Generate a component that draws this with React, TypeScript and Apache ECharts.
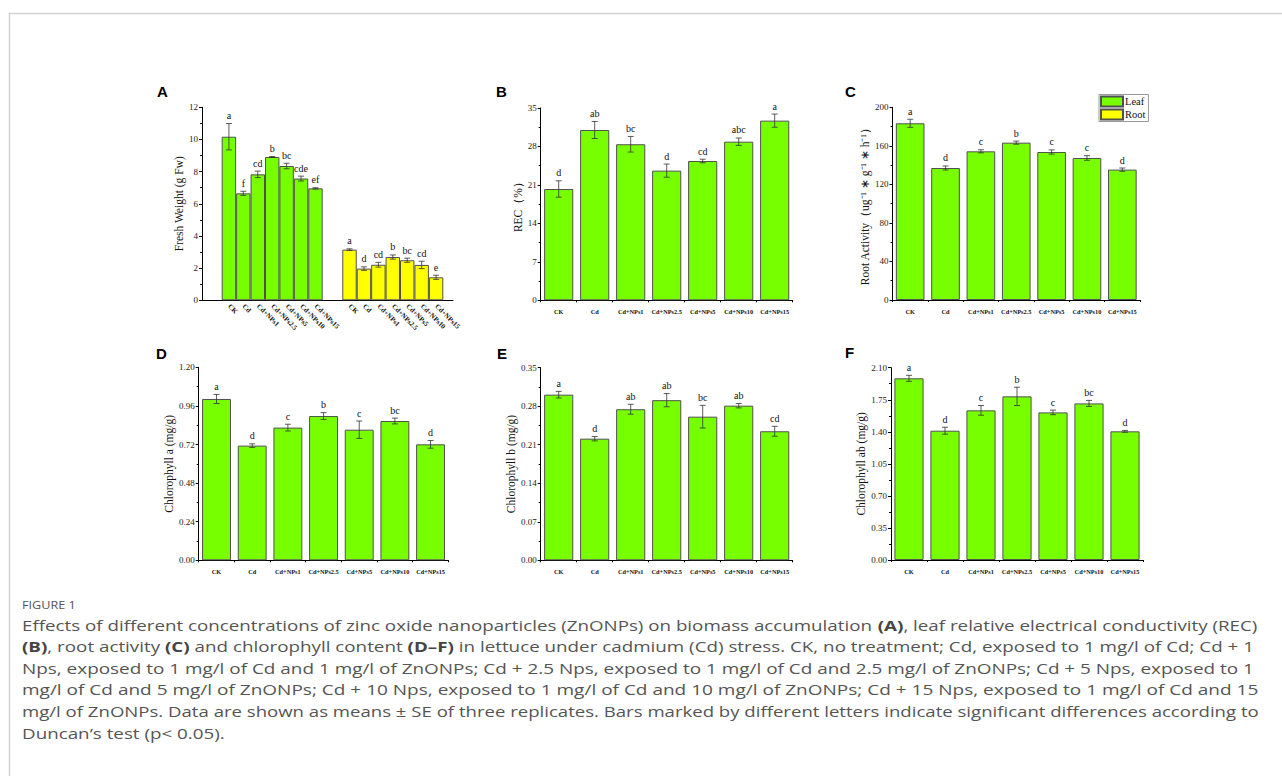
import React, { useEffect, useRef } from 'react';
import * as echarts from 'echarts';

const categories = ['CK', 'Cd', 'Cd+NPs1', 'Cd+NPs2.5', 'Cd+NPs5', 'Cd+NPs10', 'Cd+NPs15'];

const freshLeaf = [10.17, 6.65, 7.83, 8.91, 8.35, 7.57, 6.96];
const freshLeafSE = [0.82, 0.13, 0.2, 0.03, 0.17, 0.15, 0.04];
const freshLeafSig = ['a', 'f', 'cd', 'b', 'bc', 'cde', 'ef'];

const freshRoot = [3.15, 1.97, 2.21, 2.69, 2.49, 2.2, 1.43];
const freshRootSE = [0.05, 0.11, 0.15, 0.13, 0.13, 0.23, 0.13];
const freshRootSig = ['a', 'd', 'cd', 'b', 'bc', 'cd', 'e'];

const rec = [20.26, 31.0, 28.4, 23.6, 25.35, 28.87, 32.7];
const recSE = [1.49, 1.55, 1.42, 1.2, 0.33, 0.67, 1.2];
const recSig = ['d', 'ab', 'bc', 'd', 'cd', 'abc', 'a'];

const rootAct = [183.4, 137, 154.3, 163.3, 153.6, 147.4, 135.3];
const rootActSE = [4.2, 2.1, 1.6, 1.6, 2.2, 2.4, 1.7];
const rootActSig = ['a', 'd', 'c', 'b', 'c', 'c', 'd'];

const chlA = [1.003, 0.713, 0.825, 0.897, 0.812, 0.866, 0.721];
const chlASE = [0.028, 0.011, 0.021, 0.021, 0.054, 0.018, 0.024];
const chlASig = ['a', 'd', 'c', 'b', 'c', 'bc', 'd'];

const chlB = [0.301, 0.221, 0.2745, 0.291, 0.261, 0.281, 0.2345];
const chlBSE = [0.006, 0.004, 0.009, 0.012, 0.0206, 0.004, 0.009];
const chlBSig = ['a', 'd', 'ab', 'ab', 'bc', 'ab', 'cd'];

const chlAB = [1.984, 1.412, 1.634, 1.787, 1.612, 1.71, 1.405];
const chlABSE = [0.033, 0.038, 0.053, 0.1, 0.025, 0.033, 0.01];
const chlABSig = ['a', 'd', 'c', 'b', 'c', 'bc', 'd'];

const legendNames = ['Leaf', 'Root'];

const captionTitle = 'FIGURE 1';
const captionLines = [
  'Effects of different concentrations of zinc oxide nanoparticles (ZnONPs) on biomass accumulation {b|(A)}, leaf relative electrical conductivity (REC)',
  '{b|(B)}, root activity {b|(C)} and chlorophyll content {b|(D–F)} in lettuce under cadmium (Cd) stress. CK, no treatment; Cd, exposed to 1 mg/l of Cd; Cd + 1',
  'Nps, exposed to 1 mg/l of Cd and 1 mg/l of ZnONPs; Cd + 2.5 Nps, exposed to 1 mg/l of Cd and 2.5 mg/l of ZnONPs; Cd + 5 Nps, exposed to 1',
  'mg/l of Cd and 5 mg/l of ZnONPs; Cd + 10 Nps, exposed to 1 mg/l of Cd and 10 mg/l of ZnONPs; Cd + 15 Nps, exposed to 1 mg/l of Cd and 15',
  'mg/l of ZnONPs. Data are shown as means ± SE of three replicates. Bars marked by different letters indicate significant differences according to',
  'Duncan’s test (p< 0.05).',
];

const SERIF = "'Liberation Serif', 'Times New Roman', serif";
const SANS = "'Liberation Sans', Arial, sans-serif";
const CAP = "'Open Sans', sans-serif";
const GREEN = '#77FF00';
const YELLOW = '#FFFF00';
const BORDER = '#505050';

function yAxisFor(gridIndex: number, max: number, interval: number, name: string, nameGap: number, decimals: number, show = true) {
  return {
    type: 'value',
    gridIndex,
    min: 0,
    max,
    interval,
    show,
    name,
    nameLocation: 'middle',
    nameGap,
    nameTextStyle: { fontFamily: SERIF, fontSize: 11.5, color: '#111' },
    axisLine: { show: true, lineStyle: { color: '#000', width: 1 } },
    axisTick: { show: true, length: 3, inside: false, lineStyle: { color: '#000', width: 1 } },
    minorTick: { show: true, splitNumber: 2, length: 2, lineStyle: { color: '#000', width: 1 } },
    splitLine: { show: false },
    axisLabel: {
      fontFamily: SERIF,
      fontSize: 9,
      color: '#222',
      margin: 4,
      formatter: (v: number) => v.toFixed(decimals),
    },
  };
}

function xCat(gridIndex: number) {
  return {
    type: 'category',
    gridIndex,
    data: categories,
    boundaryGap: true,
    axisLine: { show: true, lineStyle: { color: '#000', width: 1 } },
    axisTick: { show: true, length: 2, lineStyle: { color: '#000', width: 1 } },
    axisLabel: { fontFamily: SERIF, fontWeight: 'bold', fontSize: 6.3, color: '#111', margin: 8, interval: 0 },
  };
}

function barSeries(name: string, idx: number, data: number[], color: string, width: string) {
  return {
    type: 'bar',
    name,
    xAxisIndex: idx,
    yAxisIndex: idx,
    data,
    barWidth: width,
    barGap: '0%',
    itemStyle: { color, borderColor: BORDER, borderWidth: 1 },
    z: 2,
    silent: true,
  };
}

function errSeries(idx: number, values: number[], se: number[], sig: string[]) {
  return {
    type: 'custom',
    name: 'err' + idx,
    xAxisIndex: idx,
    yAxisIndex: idx,
    z: 5,
    silent: true,
    data: values.map((v, i) => [i, v, se[i]]),
    renderItem: (params: any, api: any) => {
      const i = api.value(0);
      const m = api.value(1);
      const e = api.value(2);
      const top = api.coord([i, m + e]);
      const bot = api.coord([i, m - e]);
      const x = top[0];
      const hw = 3;
      const ls = { stroke: '#333', lineWidth: 0.8 };
      return {
        type: 'group',
        children: [
          { type: 'line', shape: { x1: x, y1: top[1], x2: x, y2: bot[1] }, style: ls },
          { type: 'line', shape: { x1: x - hw, y1: top[1], x2: x + hw, y2: top[1] }, style: ls },
          { type: 'line', shape: { x1: x - hw, y1: bot[1], x2: x + hw, y2: bot[1] }, style: ls },
          {
            type: 'text',
            x,
            y: top[1] - 3,
            style: {
              text: sig[params.dataIndex],
              textAlign: 'center',
              textVerticalAlign: 'bottom',
              fontFamily: SERIF,
              fontSize: 10,
              fill: '#111',
            },
          },
        ],
      };
    },
  };
}

function panelLabel(text: string, x: number, y: number) {
  return {
    type: 'text',
    left: x,
    top: y,
    style: { text, fontFamily: SANS, fontWeight: 'bold', fontSize: 15, fill: '#000' },
  };
}

export default function App() {
  const ref = useRef<HTMLDivElement>(null);
  useEffect(() => {
    if (!ref.current) return;
    const chart = echarts.init(ref.current, undefined, { renderer: 'svg' });

    const grids = [
      { left: 202, top: 107.3, width: 251, height: 193 }, // 0 A main
      { left: 221.7, top: 107.3, width: 101, height: 193 }, // 1 A leaf
      { left: 342.3, top: 107.3, width: 101, height: 193 }, // 2 A root
      { left: 540.7, top: 108, width: 252, height: 192.3 }, // 3 B
      { left: 892.5, top: 107.3, width: 247.5, height: 192.7 }, // 4 C
      { left: 198.7, top: 367.3, width: 249.7, height: 193 }, // 5 D
      { left: 540.7, top: 367.7, width: 252, height: 192.6 }, // 6 E
      { left: 891, top: 367.7, width: 252, height: 192.3 }, // 7 F
    ];

    const aCat = (gi: number) => ({
      type: 'category',
      gridIndex: gi,
      data: categories,
      boundaryGap: true,
      axisLine: { show: false },
      axisTick: { show: false },
      axisLabel: { fontFamily: SERIF, fontWeight: 'bold', fontSize: 7, color: '#111', rotate: -45, margin: 5, interval: 0 },
    });

    const xAxis = [
      {
        type: 'value',
        gridIndex: 0,
        min: 0,
        max: 1,
        axisLine: { show: true, onZero: false, lineStyle: { color: '#000', width: 1 } },
        axisTick: { show: false },
        axisLabel: { show: false },
        splitLine: { show: false },
      },
      aCat(1),
      aCat(2),
      xCat(3),
      xCat(4),
      xCat(5),
      xCat(6),
      xCat(7),
    ];

    const yAxis = [
      yAxisFor(0, 12, 2, 'Fresh Weight (g Fw)', 15, 0),
      yAxisFor(1, 12, 2, '', 0, 0, false),
      yAxisFor(2, 12, 2, '', 0, 0, false),
      yAxisFor(3, 35, 7, 'REC（%）', 15, 0),
      yAxisFor(4, 200, 40, 'Root Activity（ug⁻¹ ∗ g⁻¹ ∗ h⁻¹）', 19, 0),
      yAxisFor(5, 1.2, 0.24, 'Chlorophyll a (mg/g)', 21, 2),
      yAxisFor(6, 0.35, 0.07, 'Chlorophyll b (mg/g)', 21, 2),
      yAxisFor(7, 2.1, 0.35, 'Chlorophyll ab (mg/g)', 21, 2),
    ];

    const series: any[] = [
      barSeries(legendNames[0], 1, freshLeaf, GREEN, '100%'),
      errSeries(1, freshLeaf, freshLeafSE, freshLeafSig),
      barSeries(legendNames[1], 2, freshRoot, YELLOW, '100%'),
      errSeries(2, freshRoot, freshRootSE, freshRootSig),
      barSeries(legendNames[0], 3, rec, GREEN, '81%'),
      errSeries(3, rec, recSE, recSig),
      barSeries(legendNames[0], 4, rootAct, GREEN, '81%'),
      errSeries(4, rootAct, rootActSE, rootActSig),
      barSeries(legendNames[0], 5, chlA, GREEN, '81%'),
      errSeries(5, chlA, chlASE, chlASig),
      barSeries(legendNames[0], 6, chlB, GREEN, '81%'),
      errSeries(6, chlB, chlBSE, chlBSig),
      barSeries(legendNames[0], 7, chlAB, GREEN, '81%'),
      errSeries(7, chlAB, chlABSE, chlABSig),
    ];

    const CAP_SIZE = 15;
    const capScales = [1.251, 1.253, 1.261, 1.268, 1.24, 1.253];

    const graphic: any[] = [
      { type: 'line', shape: { x1: 9, y1: 13.5, x2: 1282, y2: 13.5 }, style: { stroke: '#d2d2d2', lineWidth: 1.5 } },
      { type: 'line', shape: { x1: 9.5, y1: 13, x2: 9.5, y2: 776 }, style: { stroke: '#d2d2d2', lineWidth: 1.5 } },
      panelLabel('A', 157, 84),
      panelLabel('B', 496, 84),
      panelLabel('C', 845, 84),
      panelLabel('D', 156, 346),
      panelLabel('E', 497, 346),
      panelLabel('F', 845, 345),
      {
        type: 'text',
        x: 22,
        y: 605,
        scaleX: 1.1,
        style: { text: captionTitle, fontFamily: CAP, fontSize: 11.5, fill: '#555', textVerticalAlign: 'middle' },
      },
      ...captionLines.map((t, i) => ({
        type: 'text',
        x: 22,
        y: 625 + i * 21.6,
        scaleX: capScales[i],
        style: {
          text: t,
          fontFamily: CAP,
          fontSize: CAP_SIZE,
          lineHeight: 19,
          fill: '#555',
          textVerticalAlign: 'middle',
          rich: {
            b: { fontFamily: CAP, fontSize: CAP_SIZE, lineHeight: 19, fontWeight: 'bold', fill: '#444' },
          },
        },
      })),
    ];

    chart.setOption({
      animation: false,
      backgroundColor: '#fff',
      grid: grids,
      xAxis,
      yAxis,
      series,
      legend: {
        data: legendNames,
        orient: 'vertical',
        left: 1099,
        top: 94.5,
        itemWidth: 22,
        itemHeight: 10,
        itemGap: 1,
        padding: [1, 3, 1, 1],
        borderColor: '#999',
        borderWidth: 1,
        icon: 'rect',
        selectedMode: false,
        textStyle: { fontFamily: SERIF, fontSize: 10.5, color: '#111', padding: [0, 0, 0, -3] },
      },
      graphic,
    });
    return () => chart.dispose();
  }, []);
  return <div ref={ref} style={{ position: 'absolute', left: 0, top: 0, width: 1282, height: 776 }} />;
}
